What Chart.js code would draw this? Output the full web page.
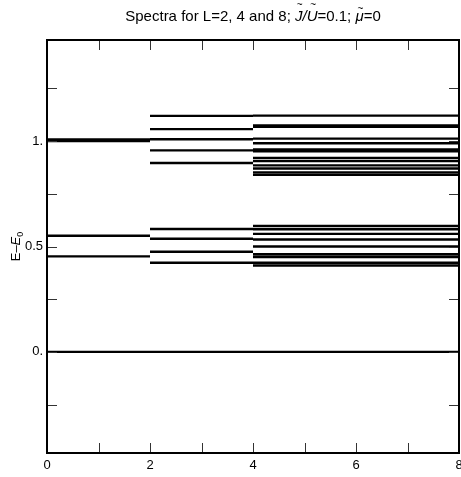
<!DOCTYPE html>
<html>
<head>
<meta charset="utf-8">
<script src="https://cdn.jsdelivr.net/npm/chart.js@4"></script>
<style>
  body { margin: 0; background: #fff; }
</style>
</head>
<body>
<canvas id="chart" width="461" height="477"></canvas>
<script>
// energy levels E - E0 for each chain length
const chainLengths = [2, 4, 8];
const segmentRanges = [[0, 2], [2, 4], [4, 8]];
const levelsL2 = [0, 0.453, 0.551, 1.0, 1.008];
const levelsL4 = [0, 0.423, 0.475, 0.537, 0.583, 0.896, 0.956, 1.009, 1.057, 1.120];
const levelsL8 = [0, 0.41, 0.423, 0.45, 0.463, 0.5, 0.533, 0.56, 0.582, 0.597,
  0.84, 0.852, 0.87, 0.885, 0.905, 0.92, 0.952, 0.96, 0.99, 1.012, 1.068, 1.075, 1.121];
const xTickValues = [0, 1, 2, 3, 4, 5, 6, 7, 8];
const yTickValues = [-0.25, 0, 0.25, 0.5, 0.75, 1, 1.25];
const yTickLabels = { '0': '0.', '0.5': '0.5', '1': '1.' };

const FONT = '"Liberation Sans", Arial, sans-serif';

// each level becomes a flat segment over its L range, separated by gaps
function segments(levels, range) {
  const pts = [];
  levels.forEach((v) => {
    pts.push({ x: range[0], y: v }, { x: range[1], y: v }, { x: range[1], y: null });
  });
  return pts;
}

const allLevels = [levelsL2, levelsL4, levelsL8];

const frameAndLabels = {
  id: 'frameAndLabels',
  afterDraw(chart) {
    const { ctx, chartArea: { left, right, top, bottom }, scales: { x, y } } = chart;
    ctx.save();

    // tick marks pointing inward on all four sides
    ctx.strokeStyle = '#333';
    ctx.lineWidth = 1;
    ctx.beginPath();
    xTickValues.forEach((v) => {
      const px = Math.round(x.getPixelForValue(v)) + 0.5;
      ctx.moveTo(px, bottom); ctx.lineTo(px, bottom - 10);
      ctx.moveTo(px, top); ctx.lineTo(px, top + 10);
    });
    yTickValues.forEach((v) => {
      const py = Math.round(y.getPixelForValue(v)) + 0.5;
      ctx.moveTo(left, py); ctx.lineTo(left + 10, py);
      ctx.moveTo(right, py); ctx.lineTo(right - 10, py);
    });
    ctx.stroke();

    // frame
    ctx.strokeStyle = '#000';
    ctx.lineWidth = 2;
    ctx.strokeRect(left, top, right - left, bottom - top);

    // title with tildes over J, U and mu
    const parts = [
      { t: 'Spectra for L=2, 4 and 8; ', it: false },
      { t: 'J', it: true, tilde: true },
      { t: '/', it: true },
      { t: 'U', it: true, tilde: true },
      { t: '=0.1; ', it: false },
      { t: '\u03bc', it: true, tilde: true },
      { t: '=0', it: false },
    ];
    const size = 15;
    let total = 0;
    parts.forEach((p) => {
      ctx.font = (p.it ? 'italic ' : '') + size + 'px ' + FONT;
      p.w = ctx.measureText(p.t).width;
      total += p.w;
    });
    let cx = (left + right) / 2 - total / 2;
    const baseY = 21;
    ctx.fillStyle = '#000';
    ctx.textBaseline = 'alphabetic';
    ctx.textAlign = 'left';
    parts.forEach((p) => {
      ctx.font = (p.it ? 'italic ' : '') + size + 'px ' + FONT;
      ctx.fillText(p.t, cx, baseY);
      if (p.tilde) {
        ctx.font = '10px ' + FONT;
        const tw = ctx.measureText('~').width;
        ctx.fillText('~', cx + p.w / 2 - tw / 2 + 1, baseY - (p.t === '\u03bc' ? 9 : 13));
      }
      cx += p.w;
    });

    // y axis label E-E0
    ctx.translate(16, (top + bottom) / 2);
    ctx.rotate(-Math.PI / 2);
    const seg = [
      { t: 'E\u2013', f: '13px ' + FONT, dy: 0 },
      { t: 'E', f: 'italic 13px ' + FONT, dy: 0 },
      { t: '0', f: '9px ' + FONT, dy: 3 },
    ];
    let w = 0;
    seg.forEach((s) => { ctx.font = s.f; s.w = ctx.measureText(s.t).width; w += s.w; });
    let sx = -w / 2;
    seg.forEach((s) => {
      ctx.font = s.f;
      ctx.fillText(s.t, sx, 4 + s.dy);
      sx += s.w;
    });

    ctx.restore();
  },
};

new Chart(document.getElementById('chart'), {
  type: 'line',
  data: {
    datasets: chainLengths.map((L, i) => ({
      label: 'L=' + L,
      data: segments(allLevels[i], segmentRanges[i]),
      borderColor: '#000',
      borderWidth: 2.4,
      pointRadius: 0,
      spanGaps: false,
      fill: false,
    })),
  },
  plugins: [frameAndLabels],
  options: {
    responsive: false,
    animation: false,
    layout: { padding: { top: 40, right: 2, left: 0, bottom: 0 } },
    plugins: {
      legend: { display: false },
      title: { display: false },
      tooltip: { enabled: false },
    },
    scales: {
      x: {
        type: 'linear',
        min: 0,
        max: 8,
        grid: { display: false, drawTicks: false },
        border: { display: false },
        ticks: {
          stepSize: 1,
          autoSkip: false,
          maxRotation: 0,
          padding: 5,
          color: '#000',
          font: { family: FONT, size: 13 },
          callback: (v) => (v % 2 === 0 ? String(v) : ''),
        },
        afterFit(scale) {
          scale.height = 24;
          scale.paddingLeft = 0;
          scale.paddingRight = 0;
        },
      },
      y: {
        type: 'linear',
        min: -0.48,
        max: 1.48,
        grid: { display: false, drawTicks: false },
        border: { display: false },
        ticks: {
          stepSize: 0.25,
          autoSkip: false,
          padding: 4,
          color: '#000',
          font: { family: FONT, size: 13 },
          callback: (v) => {
            const key = String(Math.round(v * 100) / 100);
            return yTickLabels[key] || '';
          },
        },
        afterFit(scale) {
          scale.width = 47;
          scale.paddingTop = 0;
          scale.paddingBottom = 0;
        },
      },
    },
  },
});
</script>
</body>
</html>
